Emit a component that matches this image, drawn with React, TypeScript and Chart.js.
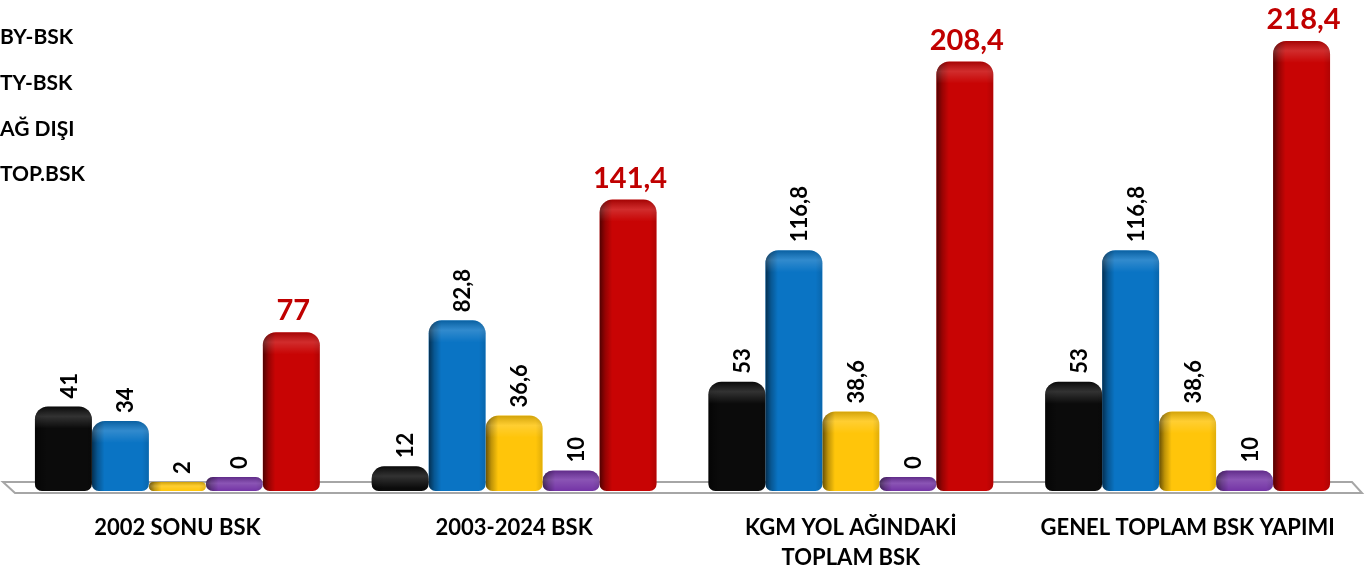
import React, { useEffect, useRef } from "react";
import { Chart, registerables } from "chart.js";

Chart.register(...registerables);

const categories: string[][] = [
  ["2002 SONU BSK"],
  ["2003-2024 BSK"],
  ["KGM YOL AĞINDAKİ", "TOPLAM BSK"],
  ["GENEL TOPLAM BSK YAPIMI"],
];
const seriesNames = ["OY-BSK", "BY-BSK", "TY-BSK", "AĞ DIŞI", "TOP.BSK"];
const blackValues = [41, 12, 53, 53];
const blueValues = [34, 82.8, 116.8, 116.8];
const yellowValues = [2, 36.6, 38.6, 38.6];
const purpleValues = [0, 10, 0, 10];
const redValues = [77, 141.4, 208.4, 218.4];

const seriesColors = ["#0B0B0B", "#0A74C4", "#FFC50A", "#7434A6", "#C80404"];
const minLengths = [9, 9, 9, 14, 9];
const FONT = "Lato";

const fmt = (v: number) => String(v).replace(".", ",");

const floorPlugin = {
  id: "floor3d",
  beforeDatasetsDraw(chart: any) {
    const { ctx, chartArea } = chart;
    const { left, right, bottom } = chartArea;
    ctx.save();
    ctx.beginPath();
    ctx.moveTo(left - 6, bottom - 9);
    ctx.lineTo(right - 4, bottom - 9);
    ctx.lineTo(right + 6, bottom + 2);
    ctx.lineTo(left + 6, bottom + 2);
    ctx.closePath();
    ctx.fillStyle = "#FFFFFF";
    ctx.fill();
    ctx.lineWidth = 2;
    ctx.strokeStyle = "#A6A6A6";
    ctx.stroke();
    ctx.restore();
  },
};

const shadePlugin = {
  id: "barShade",
  afterDatasetsDraw(chart: any) {
    const { ctx, chartArea } = chart;
    chart.data.datasets.forEach((_: any, di: number) => {
      const meta = chart.getDatasetMeta(di);
      meta.data.forEach((el: any) => {
        const { x, y, base, width } = el.getProps(["x", "y", "base", "width"], true);
        const left = x - width / 2;
        const top = Math.min(y, base);
        const bot = Math.min(Math.max(y, base), chartArea.bottom);
        const h = bot - top;
        if (h <= 0) return;
        const r = Math.min(13, h / 2, width / 2);
        const rb = Math.min(7, h / 2);
        ctx.save();
        ctx.beginPath();
        (ctx as any).roundRect(left, top, width, h, [r, r, rb, rb]);
        ctx.clip();
        const g = ctx.createLinearGradient(left, 0, left + width, 0);
        g.addColorStop(0, "rgba(0,0,0,0.6)");
        g.addColorStop(0.1, "rgba(0,0,0,0.25)");
        g.addColorStop(0.22, "rgba(0,0,0,0)");
        g.addColorStop(0.88, "rgba(0,0,0,0)");
        g.addColorStop(1, "rgba(0,0,0,0.12)");
        ctx.fillStyle = g;
        ctx.fillRect(left, top, width, h);
        const hh = Math.min(22, h);
        const gv = ctx.createLinearGradient(0, top, 0, top + hh);
        gv.addColorStop(0, "rgba(0,0,0,0.18)");
        gv.addColorStop(0.45, "rgba(255,255,255,0.16)");
        gv.addColorStop(1, "rgba(255,255,255,0)");
        ctx.fillStyle = gv;
        ctx.fillRect(left, top, width, hh);
        ctx.restore();
      });
    });
  },
};

const labelPlugin = {
  id: "valueLabels",
  afterDatasetsDraw(chart: any) {
    const { ctx } = chart;
    chart.data.datasets.forEach((ds: any, di: number) => {
      const meta = chart.getDatasetMeta(di);
      meta.data.forEach((el: any, i: number) => {
        const { x, y } = el.getProps(["x", "y"], true);
        const text = fmt(ds.data[i]);
        ctx.save();
        if (di === 4) {
          ctx.font = `700 29px ${FONT}`;
          ctx.fillStyle = "#C00000";
          ctx.textAlign = "center";
          ctx.textBaseline = "alphabetic";
          ctx.fillText(text, x + 2, y - 12);
        } else {
          ctx.font = `700 22px ${FONT}`;
          ctx.fillStyle = "#000000";
          ctx.translate(x + 6, y - 8);
          ctx.rotate(-Math.PI / 2);
          ctx.textAlign = "left";
          ctx.textBaseline = "middle";
          ctx.fillText(text, 0, 0);
        }
        ctx.restore();
      });
    });
  },
};

const legendPlugin = {
  id: "textLegend",
  afterDraw(chart: any) {
    const { ctx } = chart;
    const ys = [-8, 37, 83, 129, 174];
    ctx.save();
    ctx.font = `700 21px ${FONT}`;
    ctx.fillStyle = "#000000";
    ctx.textAlign = "left";
    ctx.textBaseline = "middle";
    seriesNames.forEach((n, i) => ctx.fillText(n, 0, ys[i]));
    ctx.restore();
  },
};

export default function App() {
  const ref = useRef<HTMLCanvasElement | null>(null);
  useEffect(() => {
    if (!ref.current) return;
    const seriesData = [blackValues, blueValues, yellowValues, purpleValues, redValues];
    const chart = new Chart(ref.current, {
      type: "bar",
      data: {
        labels: categories,
        datasets: seriesData.map((d, i) => ({
          label: seriesNames[i],
          data: d,
          backgroundColor: seriesColors[i],
          borderWidth: 0,
          borderSkipped: false,
          borderRadius: { topLeft: 13, topRight: 13, bottomLeft: 7, bottomRight: 7 },
          minBarLength: minLengths[i],
          categoryPercentage: 0.846,
          barPercentage: 1.0,
        })),
      },
      options: {
        responsive: false,
        animation: false,
        layout: { padding: { left: 9, right: 14, top: 17, bottom: 0 } },
        plugins: { legend: { display: false }, tooltip: { enabled: false } },
        scales: {
          x: {
            grid: { display: false, drawTicks: false },
            border: { display: false },
            ticks: {
              color: "#000000",
              font: { family: FONT, size: 22, weight: "bold", lineHeight: 1.36 },
              padding: 22,
              maxRotation: 0,
              autoSkip: false,
            },
            afterFit: (scale: any) => {
              scale.height = 79;
            },
          },
          y: { display: false, min: 0, max: 230 },
        },
      },
      plugins: [floorPlugin, shadePlugin, labelPlugin, legendPlugin],
    } as any);
    return () => chart.destroy();
  }, []);
  return (
    <div style={{ position: "absolute", left: 0, top: 0, width: 1370, height: 570, background: "#fff" }}>
      <canvas ref={ref} width={1370} height={570} style={{ display: "block" }} />
    </div>
  );
}
